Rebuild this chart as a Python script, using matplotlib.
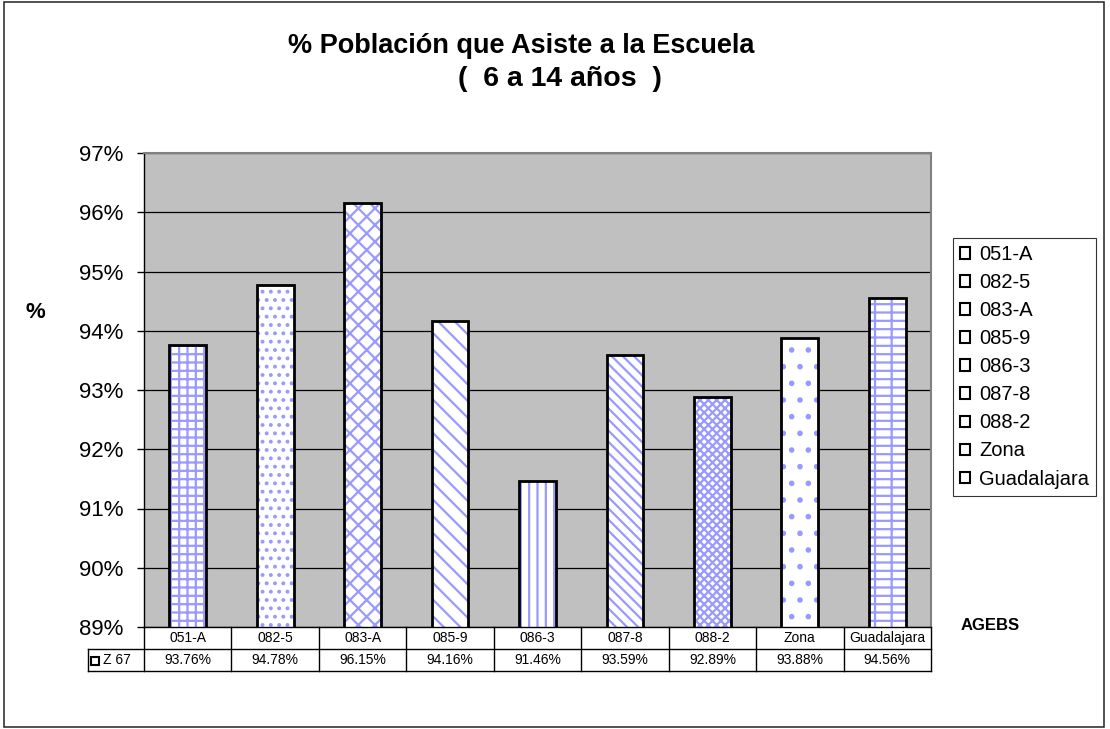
import matplotlib as mpl
mpl.use('Agg')
import matplotlib.pyplot as plt
from matplotlib.patches import Rectangle, Patch
from matplotlib.lines import Line2D
from matplotlib.transforms import blended_transform_factory

plt.rcParams['font.family'] = ['Liberation Sans', 'DejaVu Sans']
plt.rcParams['hatch.linewidth'] = 1.6

# datos
agebs = ['051-A', '082-5', '083-A', '085-9', '086-3', '087-8', '088-2', 'Zona', 'Guadalajara']
z67 = [93.76, 94.78, 96.15, 94.16, 91.46, 93.59, 92.89, 93.88, 94.56]
serie = 'Z 67'
hatches = ['++', '..', 'xx', '\\\\', '||', '\\\\\\', 'xxxx', '.', '--|']
yticks = [89, 90, 91, 92, 93, 94, 95, 96, 97]

W, H = 1110, 729
fig = plt.figure(figsize=(W / 100, H / 100), dpi=100)

def fx(px):
    return px / W

def fy(py):
    return 1 - py / H

# area de grafico
ax = fig.add_axes([fx(144), fy(627), fx(931) - fx(144), fy(153) - fy(627)])
ax.set_facecolor('#C0C0C0')
x = list(range(len(agebs)))
ax.bar(x, z67, width=0.42, color='white', edgecolor='#9999FF', hatch=hatches, linewidth=0, zorder=2)
ax.bar(x, z67, width=0.42, fill=False, edgecolor='black', linewidth=2, zorder=3)
ax.set_xlim(-0.5, len(agebs) - 0.5)
ax.set_ylim(89, 97)
ax.set_yticks(yticks)
ax.set_yticklabels(['%d%%' % t for t in yticks], fontsize=16)
ax.set_xticks([])
ax.tick_params(axis='y', direction='out', length=5, width=1, pad=10)
ax.yaxis.grid(True, color='black', linewidth=0.9)
ax.set_axisbelow(True)
for s in ['top', 'right']:
    ax.spines[s].set_color('#808080')
    ax.spines[s].set_linewidth(1.5)
ax.spines['left'].set_linewidth(1)
ax.spines['bottom'].set_linewidth(1)

# titulo
fig.text(fx(521), fy(53), '% Población que Asiste a la Escuela', ha='center', va='baseline',
         fontsize=19.5, fontweight='bold')
fig.text(fx(560), fy(86), '(  6 a 14 años  )', ha='center', va='baseline',
         fontsize=20.5, fontweight='bold')
fig.text(fx(35), fy(313), '%', ha='center', va='center', fontsize=16, fontweight='bold')
fig.text(fx(990), fy(626), 'AGEBS', ha='center', va='center', fontsize=12, fontweight='bold')

# tabla de datos
tr = blended_transform_factory(ax.transData, fig.transFigure)
r0, r1, r2 = fy(627), fy(649), fy(671)
for i in range(len(agebs) + 1):
    fig.add_artist(Line2D([i - 0.5, i - 0.5], [r0, r2], transform=tr, color='black', lw=1))
fig.add_artist(Line2D([fx(88), fx(931)], [r1, r1], transform=fig.transFigure, color='black', lw=1))
fig.add_artist(Line2D([fx(88), fx(931)], [r2, r2], transform=fig.transFigure, color='black', lw=1))
fig.add_artist(Line2D([fx(88), fx(88)], [r1, r2], transform=fig.transFigure, color='black', lw=1))
for i, (a, v) in enumerate(zip(agebs, z67)):
    fig.text(i, (r0 + r1) / 2, a, transform=tr, ha='center', va='center', fontsize=10)
    fig.text(i, (r1 + r2) / 2, '%.2f%%' % v, transform=tr, ha='center', va='center', fontsize=10)
fig.add_artist(Rectangle((fx(91), fy(665)), fx(8), 8 / H, transform=fig.transFigure,
                         facecolor='white', edgecolor='black', lw=1.5))
fig.text(fx(103), (r1 + r2) / 2, serie, ha='left', va='center', fontsize=10)

# leyenda
handles = [Patch(facecolor='white', edgecolor='black', linewidth=1.5) for _ in agebs]
leg = fig.legend(handles, agebs, loc='upper left', bbox_to_anchor=(fx(953), fy(238)),
                 bbox_transform=fig.transFigure, borderaxespad=0, fontsize=14.5,
                 frameon=True, fancybox=False, handlelength=0.5, handleheight=0.5,
                 handletextpad=0.45, labelspacing=0.45, borderpad=0.35)
leg.get_frame().set_edgecolor('black')
leg.get_frame().set_linewidth(0.8)

# borde exterior
fig.add_artist(Rectangle((fx(4), fy(727)), fx(1100), (727 - 2) / H, transform=fig.transFigure,
                         fill=False, edgecolor='#222222', lw=1.1))

plt.savefig('out.png', dpi=100)
plt.close()
